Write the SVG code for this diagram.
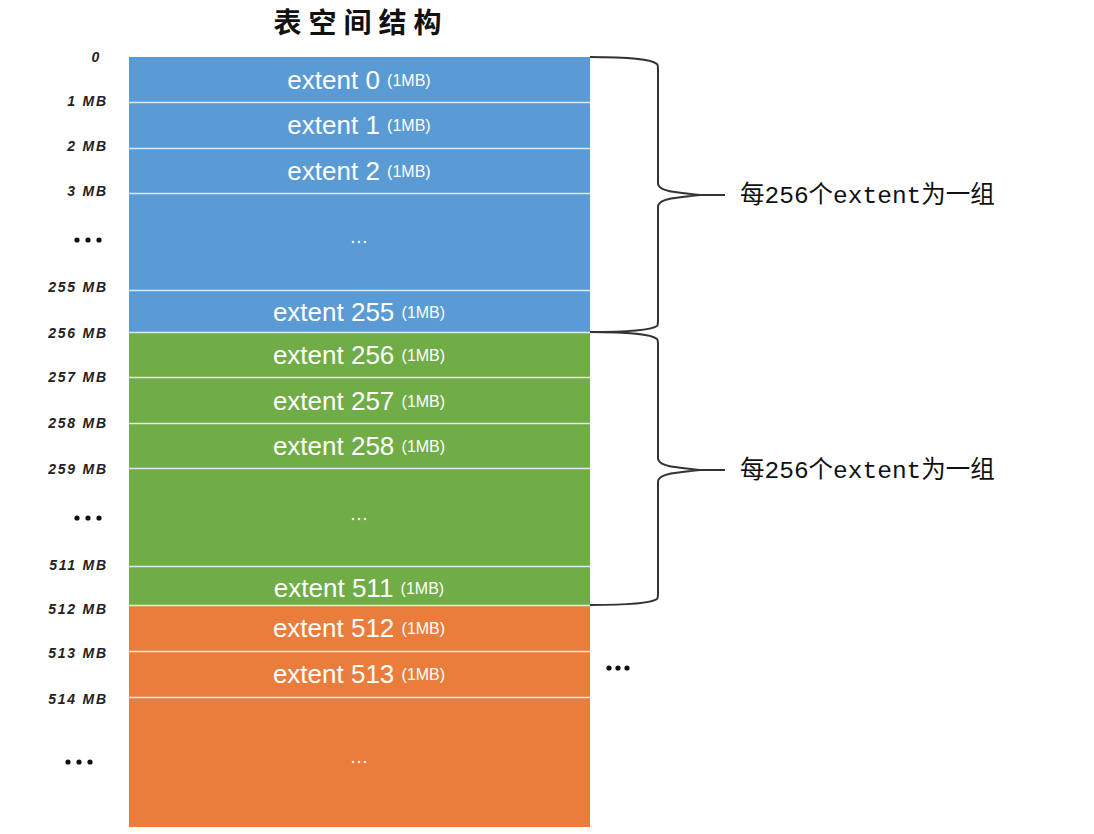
<svg xmlns="http://www.w3.org/2000/svg" width="1094" height="834" viewBox="0 0 1094 834">
<style>
.blue{fill:#5b9bd5}.green{fill:#70ad47}.orange{fill:#ea7d3c}
.sep{stroke:#dfe9f3;stroke-width:1.5}
.ext{font-family:"Liberation Sans",Arial,sans-serif;font-size:26px;fill:#fff;text-anchor:middle}
.mb{font-size:16px}
.lab{font-family:"Liberation Sans",Arial,sans-serif;font-size:14px;font-weight:bold;font-style:italic;fill:#222;text-anchor:end;letter-spacing:1.8px}
.dots{fill:#111}
.wdots{fill:#fff;opacity:0.85}
.brace{fill:none;stroke:#333;stroke-width:2}
.grp{font-family:"Liberation Mono","Noto Sans CJK SC",monospace;font-size:24.5px;fill:#111}
.title{font-family:"Noto Sans CJK SC",sans-serif;font-size:28px;font-weight:bold;fill:#111;text-anchor:middle;letter-spacing:7px}
</style>
<text class="title" x="361" y="33">表空间结构</text>
<g id="blue-group">
<rect class="blue" x="129" y="57" width="461" height="275"/>
<line class="sep" x1="129" y1="102.5" x2="590" y2="102.5"/>
<line class="sep" x1="129" y1="148.5" x2="590" y2="148.5"/>
<line class="sep" x1="129" y1="193.5" x2="590" y2="193.5"/>
<line class="sep" x1="129" y1="290.5" x2="590" y2="290.5"/>
<text class="ext" x="359" y="89">extent 0 <tspan class="mb" dy="-3">(1MB)</tspan></text>
<text class="ext" x="359" y="134">extent 1 <tspan class="mb" dy="-3">(1MB)</tspan></text>
<text class="ext" x="359" y="180">extent 2 <tspan class="mb" dy="-3">(1MB)</tspan></text>
<g class="wdots"><circle cx="353" cy="242" r="1.3"/><circle cx="359" cy="242" r="1.3"/><circle cx="365" cy="242" r="1.3"/></g>
<text class="ext" x="359" y="321">extent 255 <tspan class="mb" dy="-3">(1MB)</tspan></text>
</g>
<g id="green-group">
<rect class="green" x="129" y="332" width="461" height="273"/>
<line class="sep" x1="129" y1="332.5" x2="590" y2="332.5"/>
<line class="sep" x1="129" y1="377.5" x2="590" y2="377.5"/>
<line class="sep" x1="129" y1="423.5" x2="590" y2="423.5"/>
<line class="sep" x1="129" y1="468.5" x2="590" y2="468.5"/>
<line class="sep" x1="129" y1="566.5" x2="590" y2="566.5"/>
<text class="ext" x="359" y="364">extent 256 <tspan class="mb" dy="-3">(1MB)</tspan></text>
<text class="ext" x="359" y="410">extent 257 <tspan class="mb" dy="-3">(1MB)</tspan></text>
<text class="ext" x="359" y="455">extent 258 <tspan class="mb" dy="-3">(1MB)</tspan></text>
<g class="wdots"><circle cx="353" cy="519" r="1.3"/><circle cx="359" cy="519" r="1.3"/><circle cx="365" cy="519" r="1.3"/></g>
<text class="ext" x="359" y="597">extent 511 <tspan class="mb" dy="-3">(1MB)</tspan></text>
</g>
<g id="orange-group">
<rect class="orange" x="129" y="605" width="461" height="222"/>
<line class="sep" x1="129" y1="605.5" x2="590" y2="605.5"/>
<line class="sep" x1="129" y1="651.5" x2="590" y2="651.5"/>
<line class="sep" x1="129" y1="697.5" x2="590" y2="697.5"/>
<text class="ext" x="359" y="637">extent 512 <tspan class="mb" dy="-3">(1MB)</tspan></text>
<text class="ext" x="359" y="683">extent 513 <tspan class="mb" dy="-3">(1MB)</tspan></text>
<g class="wdots"><circle cx="353" cy="762" r="1.3"/><circle cx="359" cy="762" r="1.3"/><circle cx="365" cy="762" r="1.3"/></g>
</g>
<g id="offsets">
<text class="lab" x="101" y="62">0</text>
<text class="lab" x="108" y="106">1 MB</text>
<text class="lab" x="108" y="151">2 MB</text>
<text class="lab" x="108" y="196">3 MB</text>
<text class="lab" x="108" y="292">255 MB</text>
<text class="lab" x="108" y="338">256 MB</text>
<text class="lab" x="108" y="382">257 MB</text>
<text class="lab" x="108" y="428">258 MB</text>
<text class="lab" x="108" y="474">259 MB</text>
<text class="lab" x="108" y="570">511 MB</text>
<text class="lab" x="108" y="614">512 MB</text>
<text class="lab" x="108" y="658">513 MB</text>
<text class="lab" x="108" y="704">514 MB</text>
<g class="dots"><circle cx="77" cy="240" r="2.6"/><circle cx="88" cy="240" r="2.6"/><circle cx="99" cy="240" r="2.6"/></g>
<g class="dots"><circle cx="77" cy="518" r="2.6"/><circle cx="88" cy="518" r="2.6"/><circle cx="99" cy="518" r="2.6"/></g>
<g class="dots"><circle cx="68" cy="762" r="2.6"/><circle cx="79" cy="762" r="2.6"/><circle cx="90" cy="762" r="2.6"/></g>
</g>
<g id="more"><g class="dots"><circle cx="609" cy="668" r="2.6"/><circle cx="618" cy="668" r="2.6"/><circle cx="627" cy="668" r="2.6"/></g></g>
<g id="connectors">
<path class="brace" d="M590,57 C620,57 650,58 657,64 Q658,65 658,70 L658,183 Q658,190 675,192 Q690,194 700,195 L725,195 M700,195 Q690,196 675,198 Q658,200 658,207 L658,320 Q658,325 657,326 C650,331 620,332 590,332"/>
<path class="brace" d="M590,332 C620,332 650,333 657,339 Q658,340 658,345 L658,458 Q658,465 675,467 Q690,469 700,470 L725,470 M700,470 Q690,471 675,473 Q658,475 658,482 L658,593 Q658,598 657,599 C650,604 620,605 590,605"/>
</g>
<g id="group-labels">
<text class="grp" x="740" y="203">每256个extent为一组</text>
<text class="grp" x="740" y="478">每256个extent为一组</text>
</g>
</svg>
